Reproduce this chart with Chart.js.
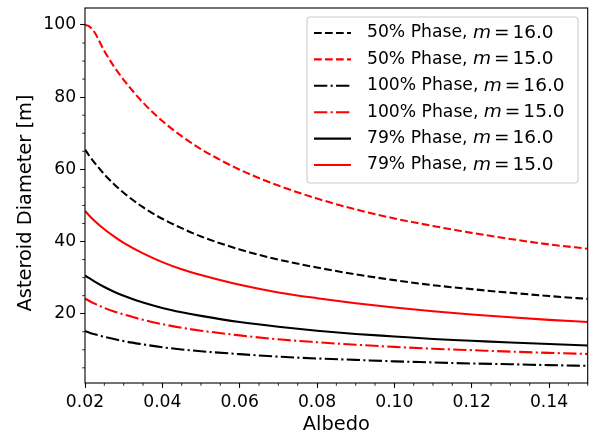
<!DOCTYPE html>
<html>
<head>
<meta charset="utf-8">
<script src="https://cdn.jsdelivr.net/npm/chart.js@4"></script>
<style>
html,body{margin:0;padding:0;background:#fff;}
canvas{display:block;}
</style>
</head>
<body>
<canvas id="c" width="589" height="436"></canvas>
<script>
// ---- data ----
const albedo = [0.02, 0.021, 0.0225, 0.025, 0.0275, 0.03, 0.035, 0.04, 0.045, 0.05, 0.06, 0.07, 0.08, 0.09, 0.10, 0.11, 0.12, 0.13, 0.14, 0.15];
const phase50_m16 = [65.5, 63.9, 61.8, 58.6, 55.9, 53.5, 49.5, 46.3, 43.7, 41.4, 37.8, 35.0, 32.8, 30.9, 29.3, 27.9, 26.8, 25.8, 24.9, 24.1];
const phase50_m15 = [100.0, 99.7, 97.9, 92.8, 88.5, 84.8, 78.5, 73.4, 69.2, 65.6, 59.9, 55.5, 51.9, 48.9, 46.4, 44.3, 42.4, 40.7, 39.2, 38.0];
const phase100_m16 = [15.2, 14.8, 14.3, 13.6, 13.0, 12.4, 11.5, 10.7, 10.1, 9.6, 8.8, 8.1, 7.6, 7.2, 6.8, 6.5, 6.2, 6.0, 5.75, 5.55];
const phase100_m15 = [24.2, 23.6, 22.8, 21.6, 20.6, 19.8, 18.3, 17.1, 16.1, 15.3, 14.0, 12.9, 12.1, 11.4, 10.8, 10.3, 9.9, 9.5, 9.15, 8.85];
const phase79_m16 = [30.6, 29.9, 28.9, 27.4, 26.1, 25.0, 23.1, 21.6, 20.4, 19.4, 17.7, 16.4, 15.3, 14.4, 13.7, 13.0, 12.5, 12.0, 11.6, 11.2];
const phase79_m15 = [48.5, 47.3, 45.7, 43.4, 41.4, 39.6, 36.7, 34.3, 32.3, 30.7, 28.0, 25.9, 24.3, 22.9, 21.7, 20.7, 19.8, 19.0, 18.3, 17.7];
const seriesLabels = [
  ['50% Phase, ', 'm', '16.0'],
  ['50% Phase, ', 'm', '15.0'],
  ['100% Phase, ', 'm', '16.0'],
  ['100% Phase, ', 'm', '15.0'],
  ['79% Phase, ', 'm', '16.0'],
  ['79% Phase, ', 'm', '15.0']
];
const xTicks = [0.02, 0.04, 0.06, 0.08, 0.10, 0.12, 0.14];
const yTicks = [20, 40, 60, 80, 100];
const xLabel = 'Albedo';
const yLabel = 'Asteroid Diameter [m]';

// ---- styling ----
const FONT = 'DejaVu Sans';
const LW = 2.08;
const DASH = [7.7, 3.3];
const DASHDOT = [13.3, 3.3, 2.1, 3.3];
const styles = [
  {color: '#000000', dash: DASH},
  {color: '#ff0000', dash: DASH},
  {color: '#000000', dash: DASHDOT},
  {color: '#ff0000', dash: DASHDOT},
  {color: '#000000', dash: []},
  {color: '#ff0000', dash: []}
];
const allSeries = [phase50_m16, phase50_m15, phase100_m16, phase100_m15, phase79_m16, phase79_m15];

const datasets = allSeries.map((vals, i) => ({
  label: seriesLabels[i].join(''),
  data: albedo.map((a, j) => ({x: a, y: vals[j]})),
  borderColor: styles[i].color,
  borderDash: styles[i].dash,
  borderWidth: LW,
  pointRadius: 0,
  fill: false,
  cubicInterpolationMode: 'monotone'
}));

const decor = {
  id: 'decor',
  afterDatasetsDraw(chart) {
    const ctx = chart.ctx;
    const a = chart.chartArea;
    const xs = chart.scales.x, ys = chart.scales.y;
    ctx.save();
    // frame
    ctx.strokeStyle = '#000';
    ctx.lineWidth = 1.1;
    ctx.setLineDash([]);
    ctx.strokeRect(a.left, a.top, a.right - a.left, a.bottom - a.top);
    // minor ticks
    ctx.lineWidth = 0.83;
    ctx.beginPath();
    for (let k = 0; k <= 26; k++) {
      const v = 0.02 + k * 0.005;
      if (k % 4 === 0) continue;
      const px = xs.getPixelForValue(v);
      ctx.moveTo(px, a.bottom);
      ctx.lineTo(px, a.bottom + 2.78);
    }
    for (let v = 5; v <= 100; v += 5) {
      if (v % 20 === 0) continue;
      const py = ys.getPixelForValue(v);
      ctx.moveTo(a.left, py);
      ctx.lineTo(a.left - 2.78, py);
    }
    ctx.stroke();
    // axis titles
    ctx.fillStyle = '#000';
    ctx.font = '19.4px "' + FONT + '"';
    ctx.textAlign = 'center';
    ctx.textBaseline = 'alphabetic';
    ctx.fillText(xLabel, (a.left + a.right) / 2, 430);
    ctx.save();
    ctx.translate(31, 203);
    ctx.rotate(-Math.PI / 2);
    ctx.fillText(yLabel, 0, 0);
    ctx.restore();

    // legend
    const bx = 307, by = 17, bw = 271, bh = 166, r = 3.5;
    ctx.beginPath();
    ctx.moveTo(bx + r, by);
    ctx.lineTo(bx + bw - r, by);
    ctx.arcTo(bx + bw, by, bx + bw, by + r, r);
    ctx.lineTo(bx + bw, by + bh - r);
    ctx.arcTo(bx + bw, by + bh, bx + bw - r, by + bh, r);
    ctx.lineTo(bx + r, by + bh);
    ctx.arcTo(bx, by + bh, bx, by + bh - r, r);
    ctx.lineTo(bx, by + r);
    ctx.arcTo(bx, by, bx + r, by, r);
    ctx.closePath();
    ctx.fillStyle = 'rgba(255,255,255,0.8)';
    ctx.fill();
    ctx.strokeStyle = '#cccccc';
    ctx.lineWidth = 1.1;
    ctx.stroke();

    const fs = 17.2, mfs = 18.5;
    for (let i = 0; i < 6; i++) {
      const cy = 33 + i * 26.4;
      ctx.beginPath();
      ctx.strokeStyle = styles[i].color;
      ctx.lineWidth = LW;
      ctx.setLineDash(styles[i].dash);
      ctx.moveTo(314, cy);
      ctx.lineTo(351, cy);
      ctx.stroke();
      ctx.setLineDash([]);
      const parts = seriesLabels[i];
      ctx.fillStyle = '#000';
      ctx.textAlign = 'left';
      ctx.textBaseline = 'middle';
      let tx = 367;
      ctx.font = fs + 'px "' + FONT + '"';
      ctx.fillText(parts[0], tx, cy);
      tx += ctx.measureText(parts[0]).width;
      ctx.font = 'italic ' + mfs + 'px "' + FONT + '"';
      ctx.fillText(parts[1], tx, cy);
      tx += ctx.measureText(parts[1]).width + 3;
      ctx.font = mfs + 'px "' + FONT + '"';
      ctx.fillText('=', tx, cy);
      tx += ctx.measureText('=').width + 3;
      ctx.fillText(parts[2], tx, cy);
    }
    ctx.restore();
  }
};

new Chart(document.getElementById('c'), {
  type: 'line',
  data: {datasets},
  options: {
    responsive: false,
    animation: false,
    devicePixelRatio: 1,
    layout: {padding: {left: 0, right: 1.3, top: 8, bottom: 0}},
    plugins: {legend: {display: false}, tooltip: {enabled: false}},
    scales: {
      x: {
        type: 'linear',
        min: 0.02,
        max: 0.15,
        afterBuildTicks: s => { s.ticks = xTicks.map(v => ({value: v})); },
        afterFit: s => { s.height = 53; s.paddingLeft = 0; s.paddingRight = 0; },
        ticks: {
          color: '#000',
          font: {family: FONT, size: 17.2},
          padding: 4,
          maxRotation: 0,
          autoSkip: false,
          callback: v => Number(v).toFixed(2)
        },
        grid: {drawOnChartArea: false, drawTicks: true, tickLength: 4.86, tickColor: '#000', tickWidth: 1.1},
        border: {display: false}
      },
      y: {
        type: 'linear',
        min: 0.8,
        max: 104.7,
        afterBuildTicks: s => { s.ticks = yTicks.map(v => ({value: v})); },
        afterFit: s => { s.width = 85; s.paddingTop = 0; s.paddingBottom = 0; },
        ticks: {
          color: '#000',
          font: {family: FONT, size: 17.2},
          padding: 4,
          autoSkip: false,
          callback: v => String(v)
        },
        grid: {drawOnChartArea: false, drawTicks: true, tickLength: 4.86, tickColor: '#000', tickWidth: 1.1},
        border: {display: false}
      }
    }
  },
  plugins: [decor]
});
</script>
</body>
</html>
